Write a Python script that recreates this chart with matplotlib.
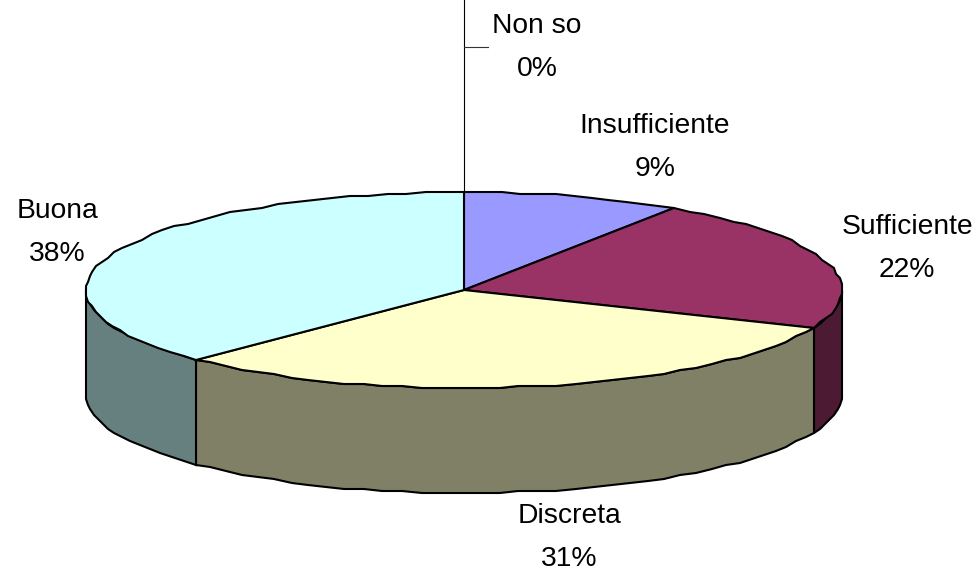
import numpy as np
import matplotlib
matplotlib.use("Agg")
import matplotlib.pyplot as plt
from matplotlib.patches import Polygon

plt.rcParams['font.family'] = ['Liberation Sans', 'DejaVu Sans']

categories = ["Non so", "Insufficiente", "Sufficiente", "Discreta", "Buona"]
counts = [0, 3, 7, 10, 12]
percent = ["0%", "9%", "22%", "31%", "38%"]
top_colors = ["#ffffff", "#9999ff", "#993366", "#ffffcc", "#ccffff"]
side_colors = ["#808080", "#4d4d80", "#4d1a33", "#808066", "#668080"]
label_pos = [(537, 26), (655, 126), (907, 227), (569, 516), (57, 211)]

cx, cy = 464, 290
rx, ry = 378, 98
depth = 105
step = 2   # the outline of the original is a bit rough

def ell(t):
    # t in degrees, clockwise from the top of the pie
    t = np.radians(t)
    x = cx + rx * np.sin(t)
    y = cy - ry * np.cos(t)
    return np.round(x / step) * step, np.round(y / step) * step

fig = plt.figure(figsize=(9.8, 5.72), dpi=100)
ax = fig.add_axes([0, 0, 1, 1])
ax.set_xlim(0, 980)
ax.set_ylim(572, 0)
ax.axis("off")

edges = np.cumsum([0] + counts) / sum(counts) * 360

# walls first
for i in range(len(counts)):
    a = max(edges[i], 90)
    b = min(edges[i + 1], 270)
    if b <= a:
        continue
    t = np.linspace(a, b, int((b - a) / 3) + 2)
    x, y = ell(t)
    pts = list(zip(x, y)) + list(zip(x[::-1], y[::-1] + depth))
    ax.add_patch(Polygon(pts, closed=True, fc=side_colors[i], ec="black", lw=1.5, zorder=2))

# top slices
for i in range(len(counts)):
    if counts[i] == 0:
        continue
    t = np.linspace(edges[i], edges[i + 1], int((edges[i + 1] - edges[i]) / 3) + 2)
    x, y = ell(t)
    pts = [(cx, cy)] + list(zip(x, y))
    ax.add_patch(Polygon(pts, closed=True, fc=top_colors[i], ec="black", lw=1.5, zorder=3))

# leader line of the 0% label
ax.plot([463.5, 463.5], [cy - ry, 0], color="black", lw=0.8, zorder=1)
ax.plot([463.5, 488], [47, 47], color="#333333", lw=0.8, zorder=1)

for i in range(len(counts)):
    lx, ly = label_pos[i]
    ax.text(lx, ly, categories[i], ha="center", va="center", fontsize=20.3, zorder=5)
    ax.text(lx, ly + 43, percent[i], ha="center", va="center", fontsize=20.3, zorder=5)

fig.savefig("out.png", dpi=100)
